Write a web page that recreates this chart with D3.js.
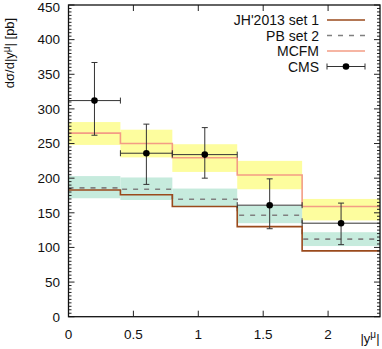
<!DOCTYPE html>
<html><head><meta charset="utf-8">
<script src="https://cdn.jsdelivr.net/npm/d3@7/dist/d3.min.js"></script>
<style>
body{margin:0;background:#fff;}
svg{display:block;font-family:"Liberation Sans",Arial,sans-serif;}
</style></head>
<body><svg id="c" width="382" height="349"></svg>
<script>
const binEdges = [0, 0.4, 0.8, 1.3, 1.8, 2.4];
const jhValues = [183, 176, 159, 130, 95];
const pbValues = [186, 184, 169.5, 146.5, 112];
const pbLow = [171, 168.5, 159, 135, 102];
const pbHigh = [203, 201, 185, 160, 122];
const mcfmValues = [265, 250, 229.5, 204.5, 159];
const mcfmLow = [248, 230, 209, 184, 139];
const mcfmHigh = [281, 270, 249, 225, 170];
const cmsX = [0.2, 0.6, 1.05, 1.55, 2.1];
const cmsValues = [312, 236, 234, 161, 135];
const cmsUp = [367, 278, 273, 199, 164];
const cmsDown = [262, 191, 200, 127, 104];
const xTicks = [0, 0.5, 1, 1.5, 2];
const yTicks = [0, 50, 100, 150, 200, 250, 300, 350, 400, 450];
const legendLabels = ["JH'2013 set 1", "PB set 2", "MCFM", "CMS"];

const L = 68.5, R = 380, T = 5, B = 316.7;
const x = d3.scaleLinear().domain([0, 2.4]).range([L, R]);
const y = d3.scaleLinear().domain([0, 450]).range([B, T]);
const svg = d3.select("#c");

const cJH = "#9a4a1c", cPB = "#808080", cMC = "#f39c85";
const cYel = "#fdfd9e", cTeal = "#c6ebdd";

const bins = d3.range(5).map(i => ({x0: binEdges[i], x1: binEdges[i+1], i}));

// bands
svg.append("g").selectAll("rect").data(bins).join("rect")
  .attr("x", d => x(d.x0)).attr("width", d => x(d.x1) - x(d.x0))
  .attr("y", d => y(mcfmHigh[d.i])).attr("height", d => y(mcfmLow[d.i]) - y(mcfmHigh[d.i]))
  .attr("fill", cYel);
svg.append("g").selectAll("rect").data(bins).join("rect")
  .attr("x", d => x(d.x0)).attr("width", d => x(d.x1) - x(d.x0))
  .attr("y", d => y(pbHigh[d.i])).attr("height", d => y(pbLow[d.i]) - y(pbHigh[d.i]))
  .attr("fill", cTeal);

function stepPts(vals){
  const pts = [];
  bins.forEach(b => { pts.push([b.x0, vals[b.i]]); pts.push([b.x1, vals[b.i]]); });
  return pts;
}
const line = d3.line().x(d => x(d[0])).y(d => y(d[1]));
svg.append("path").attr("d", line(stepPts(pbValues))).attr("fill","none")
  .attr("stroke", cPB).attr("stroke-width", 1.6).attr("stroke-dasharray", "5,6");
svg.append("path").attr("d", line(stepPts(jhValues))).attr("fill","none")
  .attr("stroke", cJH).attr("stroke-width", 1.6);
svg.append("path").attr("d", line(stepPts(mcfmValues))).attr("fill","none")
  .attr("stroke", cMC).attr("stroke-width", 1.6);

// CMS
const cg = svg.append("g").attr("stroke", "#333").attr("stroke-width", 1);
bins.forEach(b => {
  const i = b.i, px = x(cmsX[i]), py = y(cmsValues[i]);
  const xa = x(b.x0), xb = Math.min(x(b.x1), R);
  cg.append("line").attr("x1", xa).attr("x2", xb).attr("y1", py).attr("y2", py);
  cg.append("line").attr("x1", xa).attr("x2", xa).attr("y1", py-3).attr("y2", py+3);
  if (x(b.x1) < R) cg.append("line").attr("x1", xb).attr("x2", xb).attr("y1", py-3).attr("y2", py+3);
  cg.append("line").attr("x1", px).attr("x2", px).attr("y1", y(cmsUp[i])).attr("y2", y(cmsDown[i]));
  cg.append("line").attr("x1", px-3).attr("x2", px+3).attr("y1", y(cmsUp[i])).attr("y2", y(cmsUp[i]));
  cg.append("line").attr("x1", px-3).attr("x2", px+3).attr("y1", y(cmsDown[i])).attr("y2", y(cmsDown[i]));
  svg.append("circle").attr("cx", px).attr("cy", py).attr("r", 3.3).attr("fill", "#000");
});

// axes ticks
const ax = svg.append("g").attr("stroke", "#222").attr("stroke-width", 1);
d3.range(0, 451, 5).forEach(v => {
  const major = v % 50 === 0;
  const len = major ? 6 : 3;
  ax.append("line").attr("x1", L).attr("x2", L+len).attr("y1", y(v)).attr("y2", y(v));
  ax.append("line").attr("x1", R).attr("x2", R-len).attr("y1", y(v)).attr("y2", y(v));
});
xTicks.forEach(v => {
  ax.append("line").attr("x1", x(v)).attr("x2", x(v)).attr("y1", B).attr("y2", B-6);
  ax.append("line").attr("x1", x(v)).attr("x2", x(v)).attr("y1", T).attr("y2", T+6);
});
svg.append("rect").attr("x", L).attr("y", T).attr("width", R-L).attr("height", B-T)
  .attr("fill","none").attr("stroke","#111").attr("stroke-width",1.3);

// tick labels
svg.append("g").selectAll("text").data(yTicks).join("text")
  .attr("x", 60).attr("y", d => Math.max(y(d), 7)).attr("dy", "0.36em").attr("text-anchor","end")
  .attr("font-size", 13.5).attr("fill","#111").text(d => d);
svg.append("g").selectAll("text").data(xTicks).join("text")
  .attr("x", d => x(d)).attr("y", 334).attr("dy", "0.36em").attr("text-anchor","middle")
  .attr("font-size", 13.5).attr("fill","#111").text(d => d);

// axis titles
const xt = svg.append("text").attr("x", 370).attr("y", 343).attr("text-anchor","middle")
  .attr("font-size", 13).attr("fill","#111");
xt.append("tspan").text("|y");
xt.append("tspan").attr("dy", -5).attr("font-size", 10).text("μ");
xt.append("tspan").attr("dy", 5).text("|");

const yt = svg.append("text").attr("transform", "translate(14,53) rotate(-90)")
  .attr("text-anchor","middle").attr("font-size", 13).attr("fill","#111");
yt.append("tspan").text("dσ/d|y");
yt.append("tspan").attr("dy", -4).attr("font-size", 10).text("μ");
yt.append("tspan").attr("dy", 4).text("| [pb]");

// legend
const lg = svg.append("g");
const rows = [20, 35.5, 51, 66.5];
legendLabels.forEach((t, k) => {
  lg.append("text").attr("x", 319).attr("y", rows[k]).attr("dy","0.36em")
    .attr("text-anchor","end").attr("font-size", 14).attr("fill","#111").text(t);
});
const l1 = 327, l2 = 365;
lg.append("line").attr("x1", l1).attr("x2", l2).attr("y1", rows[0]).attr("y2", rows[0]).attr("stroke", cJH).attr("stroke-width",1.6);
lg.append("line").attr("x1", l1).attr("x2", l2).attr("y1", rows[1]).attr("y2", rows[1]).attr("stroke", cPB).attr("stroke-width",1.6).attr("stroke-dasharray","5,6");
lg.append("line").attr("x1", l1).attr("x2", l2).attr("y1", rows[2]).attr("y2", rows[2]).attr("stroke", cMC).attr("stroke-width",1.6);
lg.append("line").attr("x1", l1).attr("x2", l2).attr("y1", rows[3]).attr("y2", rows[3]).attr("stroke", "#333");
lg.append("line").attr("x1", l1).attr("x2", l1).attr("y1", rows[3]-3).attr("y2", rows[3]+3).attr("stroke", "#333");
lg.append("line").attr("x1", l2).attr("x2", l2).attr("y1", rows[3]-3).attr("y2", rows[3]+3).attr("stroke", "#333");
lg.append("circle").attr("cx", (l1+l2)/2).attr("cy", rows[3]).attr("r", 3.3).attr("fill","#000");
</script></body></html>
